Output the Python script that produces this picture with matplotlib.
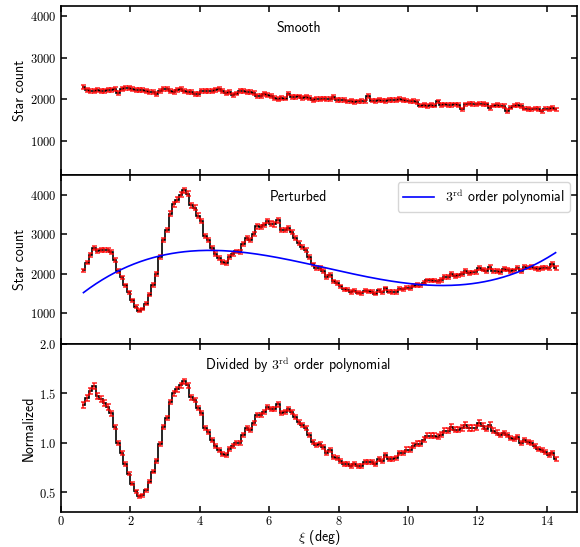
"""
plot.py
-------
Star counts along xi: smooth stream, perturbed stream with a
3rd order polynomial fit, and the perturbed counts divided by the fit.
"""

import numpy as np
import matplotlib

matplotlib.use("Agg")

import matplotlib.pyplot as plt

XI_START = 0.6
BIN_WIDTH = 0.1

smooth_counts = [
    2290, 2220, 2210, 2200, 2220, 2190, 2210, 2230, 2220, 2240,
    2150, 2240, 2270, 2280, 2240, 2230, 2220, 2230, 2190, 2170,
    2180, 2120, 2210, 2250, 2250, 2190, 2180, 2230, 2240, 2200,
    2170, 2180, 2130, 2120, 2190, 2200, 2210, 2190, 2230, 2240,
    2200, 2160, 2180, 2100, 2140, 2190, 2200, 2170, 2180, 2160,
    2080, 2090, 2120, 2110, 2080, 2040, 2000, 2030, 2020, 2140,
    2060, 2050, 2070, 2040, 2060, 2030, 1990, 2010, 2000, 2020,
    2010, 2000, 2060, 1990, 1980, 1990, 1950, 1960, 1940, 1950,
    1960, 1950, 2080, 1970, 1960, 1980, 1970, 1960, 1990, 1990,
    1980, 2000, 1990, 1970, 1950, 1960, 1940, 1850, 1860, 1840,
    1860, 1850, 1950, 1870, 1880, 1860, 1870, 1880, 1860, 1760,
    1880, 1900, 1890, 1880, 1900, 1890, 1880, 1790, 1850, 1860,
    1850, 1840, 1720, 1800, 1850, 1860, 1840, 1780, 1770, 1760,
    1780, 1770, 1710, 1780, 1770, 1790, 1760,
]

perturbed_counts = [
    2080, 2280, 2480, 2650, 2570, 2590, 2600, 2600, 2550, 2340,
    2070, 1900, 1700, 1520, 1320, 1160, 1060, 1100, 1230, 1460,
    1710, 1990, 2430, 2860, 3100, 3520, 3760, 3880, 4000, 4120,
    4030, 3730, 3670, 3470, 3340, 2960, 2860, 2660, 2500, 2400,
    2290, 2260, 2410, 2490, 2560, 2550, 2750, 2910, 2850, 3010,
    3200, 3180, 3240, 3340, 3270, 3250, 3350, 3110, 3110, 3150,
    3060, 2910, 2770, 2680, 2590, 2410, 2230, 2140, 2140, 2060,
    1910, 1960, 1800, 1760, 1680, 1600, 1590, 1530, 1560, 1510,
    1500, 1560, 1550, 1540, 1490, 1570, 1520, 1620, 1540, 1530,
    1530, 1610, 1600, 1640, 1630, 1690, 1710, 1700, 1770, 1830,
    1830, 1820, 1800, 1840, 1910, 1910, 1990, 1940, 1950, 1990,
    2060, 2010, 2030, 2040, 2140, 2100, 2070, 2160, 2070, 2060,
    2040, 2110, 2100, 2070, 2080, 2150, 2060, 2160, 2150, 2160,
    2130, 2110, 2140, 2150, 2130, 2240, 2140,
]

normalized = [
    1.38, 1.45, 1.52, 1.57, 1.47, 1.44, 1.40, 1.36, 1.30, 1.16,
    1.00, 0.90, 0.79, 0.69, 0.59, 0.51, 0.46, 0.47, 0.52, 0.61,
    0.71, 0.82, 0.99, 1.16, 1.25, 1.41, 1.50, 1.54, 1.58, 1.62,
    1.58, 1.46, 1.43, 1.35, 1.30, 1.15, 1.11, 1.03, 0.97, 0.93,
    0.89, 0.88, 0.94, 0.97, 1.00, 1.00, 1.08, 1.15, 1.13, 1.20,
    1.28, 1.28, 1.31, 1.36, 1.34, 1.34, 1.39, 1.30, 1.31, 1.34,
    1.31, 1.26, 1.21, 1.18, 1.15, 1.08, 1.01, 0.98, 0.99, 0.96,
    0.90, 0.93, 0.86, 0.85, 0.82, 0.79, 0.79, 0.77, 0.79, 0.77,
    0.77, 0.81, 0.81, 0.81, 0.79, 0.84, 0.82, 0.88, 0.84, 0.84,
    0.85, 0.90, 0.90, 0.93, 0.93, 0.97, 0.99, 0.99, 1.03, 1.07,
    1.07, 1.07, 1.06, 1.08, 1.12, 1.12, 1.16, 1.13, 1.13, 1.15,
    1.18, 1.15, 1.15, 1.15, 1.20, 1.17, 1.14, 1.18, 1.12, 1.10,
    1.08, 1.10, 1.08, 1.05, 1.04, 1.06, 1.00, 1.03, 1.01, 1.00,
    0.97, 0.94, 0.93, 0.91, 0.88, 0.90, 0.84,
]

# points
poly_xi = [0.65, 1.64, 2.79, 4.24, 5.20, 6.16, 7.31, 8.27,
           9.27, 10.20, 11.16, 12.12, 13.08, 13.65, 14.23]
poly_counts = [1510, 2071, 2429, 2582, 2556, 2429, 2191, 2005,
               1852, 1732, 1707, 1791, 2005, 2191, 2541]

LABEL_FONT = "cmss10"

plt.rcParams["font.family"] = "cmr10"
plt.rcParams["mathtext.fontset"] = "cm"
plt.rcParams["axes.formatter.use_mathtext"] = True
plt.rcParams["axes.linewidth"] = 1.2


def style_axes(ax):

    ax.tick_params(
        direction="in",
        top=True,
        right=True,
        length=4,
        width=1.1,
        labelsize=9
    )


def draw_hist(ax, edges, centers, values, errors):

    ax.stairs(
        values,
        edges,
        baseline=None,
        color="black",
        linewidth=1.2
    )

    ax.errorbar(
        centers,
        values,
        yerr=errors,
        fmt="none",
        ecolor="red",
        elinewidth=1.1,
        capsize=1.8,
        capthick=1.1,
        alpha=0.85
    )


def panel_title(ax, text):

    ax.text(
        0.46,
        0.87,
        text,
        transform=ax.transAxes,
        ha="center",
        va="center",
        fontfamily=LABEL_FONT,
        fontsize=10
    )


if __name__ == "__main__":

    smooth = np.array(smooth_counts, dtype=float)
    perturbed = np.array(perturbed_counts, dtype=float)
    norm = np.array(normalized, dtype=float)

    n_bins = len(perturbed)
    edges = XI_START + BIN_WIDTH * np.arange(n_bins + 1)
    centers = 0.5 * (edges[:-1] + edges[1:])

    poly = np.poly1d(np.polyfit(poly_xi, poly_counts, 3))

    fig, (ax1, ax2, ax3) = plt.subplots(
        3,
        1,
        sharex=True,
        figsize=(5.8, 5.47)
    )

    fig.subplots_adjust(
        left=0.105,
        right=0.995,
        top=0.989,
        bottom=0.0634,
        hspace=0
    )

    # Smooth
    draw_hist(ax1, edges, centers, smooth, np.sqrt(smooth))
    panel_title(ax1, "Smooth")
    ax1.set_ylim(190, 4240)
    ax1.set_yticks([1000, 2000, 3000, 4000])
    ax1.set_ylabel("Star count", fontfamily=LABEL_FONT, fontsize=10,
                   labelpad=2)

    # Perturbed
    draw_hist(ax2, edges, centers, perturbed, np.sqrt(perturbed))
    xs = np.linspace(centers[0], centers[-1], 300)
    ax2.plot(
        xs,
        poly(xs),
        color="blue",
        linewidth=1.2,
        label=r"$3^{\rm rd}$ order polynomial"
    )
    panel_title(ax2, "Perturbed")
    ax2.set_ylim(220, 4510)
    ax2.set_yticks([1000, 2000, 3000, 4000])
    ax2.set_ylabel("Star count", fontfamily=LABEL_FONT, fontsize=10,
                   labelpad=2)
    ax2.legend(
        loc="upper right",
        prop={"family": LABEL_FONT, "size": 10},
        handlelength=2.2,
        fancybox=True
    )

    # Normalized
    draw_hist(ax3, edges, centers, norm, np.sqrt(perturbed) / poly(centers))
    panel_title(ax3, r"Divided by $3^{\rm rd}$ order polynomial")
    ax3.set_ylim(0.3, 2.0)
    ax3.set_yticks([0.5, 1.0, 1.5, 2.0])
    ax3.set_ylabel("Normalized", fontfamily=LABEL_FONT, fontsize=10,
                   labelpad=2)
    ax3.set_xlabel(r"$\xi$ (deg)", fontfamily=LABEL_FONT, fontsize=10,
                   labelpad=0)

    ax3.set_xlim(0, 14.87)
    ax3.set_xticks(np.arange(0, 15, 2))

    for ax in (ax1, ax2, ax3):
        style_axes(ax)

    ax3.tick_params(axis="x", pad=2)

    fig.savefig("out.png", dpi=100)
